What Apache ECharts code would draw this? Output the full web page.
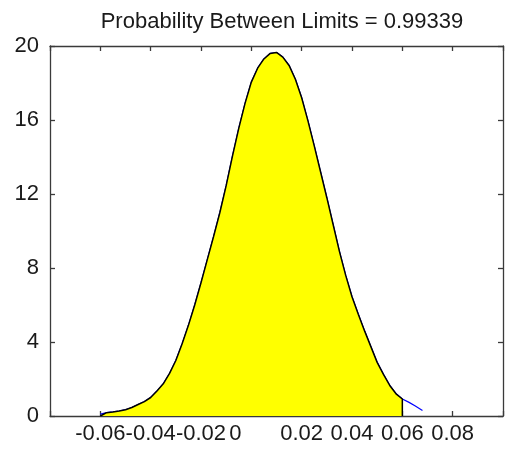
<!DOCTYPE html>
<html><head><meta charset="utf-8">
<script src="https://cdn.jsdelivr.net/npm/echarts@6/dist/echarts.min.js"></script>
<style>html,body{margin:0;padding:0;background:#fff}#c{width:506px;height:449px}</style>
</head><body><div id="c"></div>
<script>
const titleText = 'Probability Between Limits = 0.99339';
const xValues = [-0.06, -0.0575, -0.055, -0.0525, -0.05, -0.0475, -0.045, -0.0425, -0.04, -0.0375, -0.035, -0.0325, -0.03, -0.0275, -0.025, -0.0225, -0.02, -0.0175, -0.015, -0.0125, -0.01, -0.0075, -0.005, -0.0025, 0, 0.0025, 0.005, 0.0075, 0.01, 0.0125, 0.015, 0.0175, 0.02, 0.0225, 0.025, 0.0275, 0.03, 0.0325, 0.035, 0.0375, 0.04, 0.0425, 0.045, 0.0475, 0.05, 0.0525, 0.055, 0.0575, 0.06, 0.0625, 0.065, 0.068];
const pdfValues = [0.1, 0.18, 0.22, 0.27, 0.34, 0.46, 0.62, 0.78, 1.0, 1.35, 1.74, 2.3, 3.0, 3.9, 4.9, 6.0, 7.2, 8.45, 9.7, 11.0, 12.45, 14.05, 15.55, 16.9, 18.05, 18.8, 19.3, 19.6, 19.65, 19.4, 18.95, 18.2, 17.2, 15.95, 14.6, 13.2, 11.8, 10.35, 8.9, 7.6, 6.45, 5.5, 4.6, 3.75, 2.9, 2.25, 1.65, 1.2, 0.92, 0.75, 0.55, 0.30];
const lowerLimit = -0.06;
const upperLimit = 0.06;
const xMin = -0.08, xMax = 0.1, xStep = 0.02;
const yMin = 0, yMax = 20, yStep = 4;
const xTickLabels = {'-0.06': '-0.06', '-0.04': '-0.04', '-0.02': '-0.02', '0': '0', '0.02': '0.02', '0.04': '0.04', '0.06': '0.06', '0.08': '0.08'};

const curve = xValues.map((x, i) => [x, pdfValues[i]]);
const patch = [[lowerLimit, 0]].concat(curve.filter(p => p[0] >= lowerLimit - 1e-9 && p[0] <= upperLimit + 1e-9)).concat([[upperLimit, 0]]);

const font = 'Liberation Sans, Arial, sans-serif';
const axisColor = '#3a3a3a';
const textColor = '#1a1a1a';
function xLabel(v) {
  const key = String(Math.round(v * 100) / 100);
  const t = xTickLabels[key];
  if (t === undefined) return '';
  return key === '0' ? '{z|' + t + '}' : t;
}
const chart = echarts.init(document.getElementById('c'), null, {renderer: 'canvas'});
chart.setOption({
  animation: false,
  backgroundColor: '#fff',
  title: {text: titleText, left: 277, textAlign: 'center', top: 6,
    textStyle: {fontFamily: font, fontSize: 22, fontWeight: 'normal', color: textColor}},
  grid: {left: 50, right: 2, top: 46, bottom: 33, containLabel: false},
  xAxis: [{
    type: 'value', min: xMin, max: xMax, interval: xStep, position: 'bottom',
    axisLine: {show: true, onZero: false, lineStyle: {color: axisColor, width: 1.3}},
    axisTick: {show: true, inside: true, length: 5, lineStyle: {color: axisColor, width: 1.3}},
    splitLine: {show: false},
    axisLabel: {margin: 7, formatter: xLabel, color: textColor, fontFamily: font, fontSize: 22,
      rich: {z: {fontFamily: font, fontSize: 22, color: textColor, padding: [0, 32, 0, 0]}}}
  }, {
    type: 'value', min: xMin, max: xMax, interval: xStep, position: 'top',
    axisLine: {show: true, onZero: false, lineStyle: {color: axisColor, width: 1.3}},
    axisTick: {show: true, inside: true, length: 5, lineStyle: {color: axisColor, width: 1.3}},
    splitLine: {show: false}, axisLabel: {show: false}
  }],
  yAxis: [{
    type: 'value', min: yMin, max: yMax, interval: yStep, position: 'left',
    axisLine: {show: true, onZero: false, lineStyle: {color: axisColor, width: 1.3}},
    axisTick: {show: true, inside: true, length: 5, lineStyle: {color: axisColor, width: 1.3}},
    splitLine: {show: false},
    axisLabel: {margin: 11, color: textColor, fontFamily: font, fontSize: 22}
  }, {
    type: 'value', min: yMin, max: yMax, interval: yStep, position: 'right',
    axisLine: {show: true, onZero: false, lineStyle: {color: axisColor, width: 1.3}},
    axisTick: {show: true, inside: true, length: 5, lineStyle: {color: axisColor, width: 1.3}},
    splitLine: {show: false}, axisLabel: {show: false}
  }],
  series: [{
    type: 'line', data: curve, xAxisIndex: 0, yAxisIndex: 0, symbol: 'none', z: 2,
    lineStyle: {color: '#0000ff', width: 1.2}
  }, {
    type: 'line', data: patch, xAxisIndex: 0, yAxisIndex: 0, symbol: 'none', z: 3,
    lineStyle: {color: '#000', width: 1.5},
    areaStyle: {color: '#ffff00', opacity: 1, origin: 'start'}
  }]
});
</script></body></html>
